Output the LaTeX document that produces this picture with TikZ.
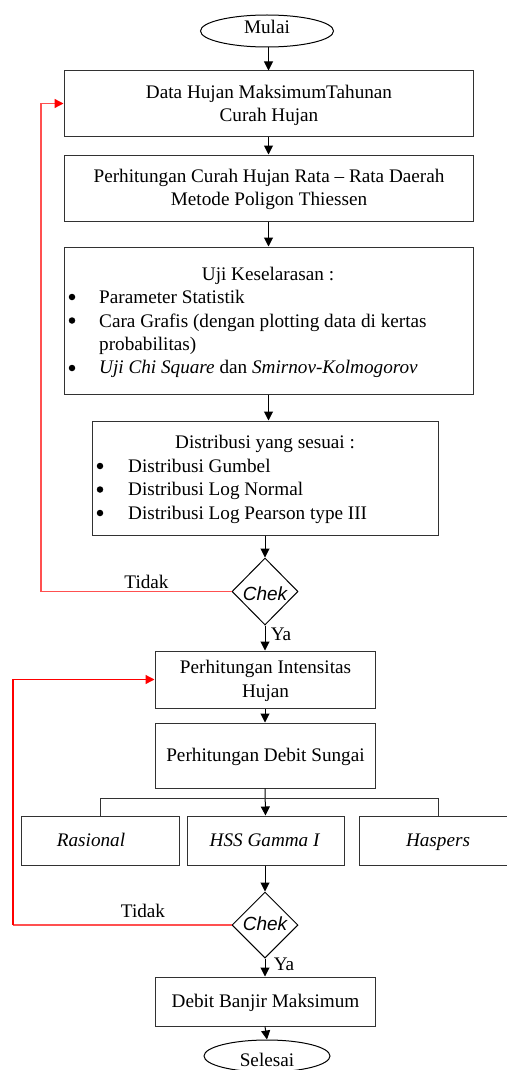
\documentclass[tikz,border=0pt]{standalone}
\usepackage{fontspec}
\setmainfont{Liberation Serif}
\newfontfamily\chekfont{Liberation Sans}
\usetikzlibrary{shapes.geometric,arrows.meta,calc}
\definecolor{lred}{RGB}{255,80,80}
\definecolor{fred}{RGB}{255,0,0}
\definecolor{edge}{RGB}{50,50,50}
\tikzset{
  box/.style={draw=edge,line width=1pt,rectangle,inner sep=0pt},
  term/.style={draw=black,line width=1pt,ellipse,inner sep=0pt},
  dec/.style={draw=black,line width=1pt,diamond,inner sep=0pt},
  txt/.style={inner sep=0pt,anchor=base,font=\fontsize{19.2}{23}\selectfont},
  ltxt/.style={inner sep=0pt,anchor=base west,font=\fontsize{19.2}{23}\selectfont},
  chk/.style={inner sep=0pt,anchor=base,font=\fontsize{19}{23}\chekfont\itshape},
  dot/.style={circle,fill=black,inner sep=0pt,minimum size=6.5pt},
  arr/.style={draw=black,line width=1pt,-{Triangle[length=9pt,width=9pt]}},
  conn/.style={draw=edge,line width=1pt},
  redln/.style={draw=lred,line width=1.3pt},
  rarr/.style={-{Triangle[length=9pt,width=9pt,color=fred,fill=fred]}},
}
\begin{document}
\begin{tikzpicture}[x=1pt,y=-1pt]
\useasboundingbox (0,0) rectangle (506,1070);
% shapes
\node[term,minimum width=133pt,minimum height=32pt] (start) at (267,31) {};
\node[txt] (startT) at (267,34) {Mulai};
\node[box,minimum width=409pt,minimum height=65pt] (b1) at (268.5,103.5) {};
\node[txt] (b1a) at (269,99) {Data Hujan MaksimumTahunan};
\node[txt] (b1b) at (269,121.5) {Curah Hujan};
\node[box,minimum width=409pt,minimum height=66pt] (b2) at (268.5,188) {};
\node[txt] (b2a) at (269,182) {Perhitungan Curah Hujan Rata -- Rata Daerah};
\node[txt] (b2b) at (269,205.5) {Metode Poligon Thiessen};
\node[box,minimum width=409pt,minimum height=147pt] (b3) at (268.5,320.5) {};
\node[txt] (b3t) at (268,280) {Uji Keselarasan :};
\node[dot] (b3d1) at (72,297) {};
\node[ltxt] (b3l1) at (99,303) {Parameter Statistik};
\node[dot] (b3d2) at (72,320.5) {};
\node[ltxt] (b3l2) at (99,327) {Cara Grafis (dengan plotting data di kertas};
\node[ltxt] (b3l3) at (99,350) {probabilitas)};
\node[dot] (b3d4) at (72,368) {};
\node[ltxt] (b3l4) at (99,373) {\textit{Uji Chi Square} dan \textit{Smirnov-Kolmogorov}};
\node[box,minimum width=346pt,minimum height=114pt] (b4) at (265,478) {};
\node[txt] (b4t) at (265,448) {Distribusi yang sesuai :};
\node[dot] (b4d1) at (100,466) {};
\node[ltxt] (b4l1) at (128,472) {Distribusi Gumbel};
\node[dot] (b4d2) at (100,489.5) {};
\node[ltxt] (b4l2) at (128,495.5) {Distribusi Log Normal};
\node[dot] (b4d3) at (100,513) {};
\node[ltxt] (b4l3) at (128,519) {Distribusi Log Pearson type III};
\node[dec,minimum width=66pt,minimum height=67pt] (c1) at (265,591.5) {};
\node[chk] (c1t) at (265,600) {Chek};
\node[txt] (tidak1) at (146.5,588) {Tidak};
\node[txt] (ya1) at (281,640) {Ya};
\node[box,minimum width=220pt,minimum height=57pt] (b5) at (265,679.5) {};
\node[txt] (b5a) at (265.5,673) {Perhitungan Intensitas};
\node[txt] (b5b) at (265.5,697) {Hujan};
\node[box,minimum width=220pt,minimum height=65pt] (b6) at (265,755.5) {};
\node[txt] (b6t) at (265.5,761) {Perhitungan Debit Sungai};
\node[box,minimum width=158pt,minimum height=49pt] (ras) at (100,840.5) {};
\node[txt] (rasT) at (91,846) {\textit{Rasional}};
\node[box,minimum width=157pt,minimum height=49pt] (hss) at (265.5,840.5) {};
\node[txt] (hssT) at (265,846) {\textit{HSS Gamma I}};
\node[box,minimum width=158pt,minimum height=49pt] (has) at (438,840.5) {};
\node[txt] (hasT) at (438,846) {\textit{Haspers}};
\node[dec,minimum width=66pt,minimum height=66pt] (c2) at (265,925) {};
\node[chk] (c2t) at (265,930) {Chek};
\node[txt] (tidak2) at (143,917) {Tidak};
\node[txt] (ya2) at (284,970) {Ya};
\node[box,minimum width=220pt,minimum height=49pt] (b7) at (265,1001.5) {};
\node[txt] (b7t) at (265.5,1007) {Debit Banjir Maksimum};
\node[term,minimum width=126pt,minimum height=32pt] (end) at (267,1056) {};
\node[txt] (endT) at (267,1066) {Selesai};
% connectors
\draw[arr] (start.south -| b1.north) -- (b1.north);
\draw[arr] (b1.south) -- (b2.north);
\draw[arr] (b2.south) -- (b3.north);
\draw[arr] (b3.south) -- (b3.south |- b4.north);
\draw[arr] (b4.south) -- (c1.north);
\draw[arr] (c1.south) -- (b5.north);
\draw[arr] (b5.south) -- (b6.north);
\draw[arr] (b6.south) -- (hss.north);
\draw[conn] (ras.north) -- ++(0,-17) -| (has.north);
\draw[arr] (hss.south -| c2.north) -- (c2.north);
\draw[arr] (c2.south) -- (b7.north);
\draw[arr] (b7.south) -- (end.north);
% red loops
\coordinate (r1) at (41,591.5);
\coordinate (r2) at (13,925);
\draw[redln,rarr] (c1.west) -- (r1) |- (b1.west);
\draw[redln] (c2.west) -- (r2);
\draw[redln,draw=fred,rarr] (r2) |- (b5.west);
\end{tikzpicture}
\end{document}
